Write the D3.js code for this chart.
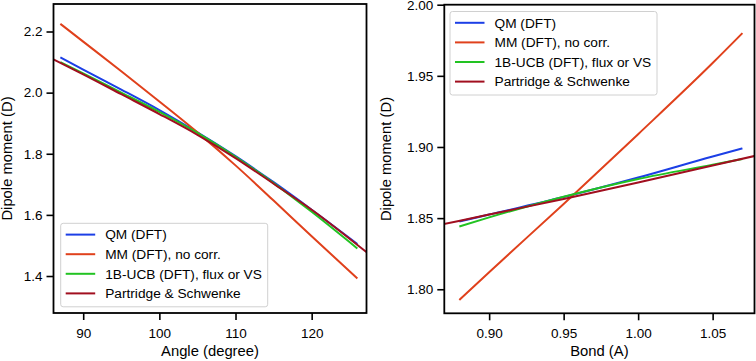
<!DOCTYPE html>
<html>
<head>
<meta charset="utf-8">
<script src="https://cdn.jsdelivr.net/npm/d3@7"></script>
<style>
  body { margin: 0; background: #fff; }
  text { font-family: "Liberation Sans", Arial, sans-serif; fill: #000; }
</style>
</head>
<body>
<div id="viz"></div>
<script>
const width = 756;
const height = 361;

// series names + colours (legend order)
const seriesNames = ['QM (DFT)', 'MM (DFT), no corr.', '1B-UCB (DFT), flux or VS', 'Partridge & Schwenke'];
const seriesColors = ['#1c3fe6', '#e0411c', '#22c322', '#a10f1f'];

// left panel: dipole vs angle
const angleX = [87, 90, 95, 100, 105, 110, 115, 120, 126];
const angleQM = [2.115, 2.075, 2.010, 1.943, 1.870, 1.792, 1.707, 1.617, 1.505];
const angleMM = [2.225, 2.167, 2.070, 1.971, 1.870, 1.762, 1.647, 1.530, 1.392];
const angleUCB = [2.100, 2.063, 2.000, 1.937, 1.868, 1.790, 1.704, 1.610, 1.490];
const anglePSX = [86, 90, 95, 100, 105, 110, 115, 120, 127.5];
const anglePS = [2.110, 2.060, 1.995, 1.930, 1.862, 1.786, 1.702, 1.617, 1.472];
const angleTicksX = [90, 100, 110, 120];
const angleTicksY = [1.4, 1.6, 1.8, 2.0, 2.2];

// right panel: dipole vs bond length
const bondX = [0.88, 0.90, 0.95, 1.00, 1.05, 1.07];
const bondQM = [1.8476, 1.8525, 1.8648, 1.8785, 1.8933, 1.8990];
const bondMM = [1.7925, 1.8120, 1.8600, 1.9090, 1.9590, 1.9800];
const bondUCB = [1.8441, 1.8505, 1.8650, 1.8775, 1.8875, 1.8915];
const bondPSX = [0.86, 0.90, 0.95, 1.00, 1.05, 1.09];
const bondPS = [1.8437, 1.8525, 1.8635, 1.8750, 1.8870, 1.8965];
const bondTicksX = [0.90, 0.95, 1.00, 1.05];
const bondTicksY = [1.80, 1.85, 1.90, 1.95, 2.00];

const svg = d3.select('#viz').append('svg')
  .attr('width', width)
  .attr('height', height);

function zip(xs, ys) { return xs.map((x, i) => [x, ys[i]]); }

function drawPanel(cfg) {
  const x = d3.scaleLinear().domain(cfg.xDomain).range([cfg.left, cfg.right]);
  const y = d3.scaleLinear().domain(cfg.yDomain).range([cfg.bottom, cfg.top]);
  const g = svg.append('g');

  const clipId = 'clip-' + cfg.id;
  g.append('clipPath').attr('id', clipId)
    .append('rect')
    .attr('x', cfg.left).attr('y', cfg.top)
    .attr('width', cfg.right - cfg.left).attr('height', cfg.bottom - cfg.top);

  const line = d3.line()
    .x(d => x(d[0]))
    .y(d => y(d[1]))
    .curve(d3.curveMonotoneX);

  g.append('g').attr('clip-path', `url(#${clipId})`)
    .selectAll('path')
    .data(cfg.series)
    .join('path')
      .attr('d', d => line(d))
      .attr('fill', 'none')
      .attr('stroke', (d, i) => seriesColors[i])
      .attr('stroke-width', 2);

  // axes
  const xAxis = g.append('g')
    .attr('transform', `translate(0, ${cfg.bottom})`)
    .call(d3.axisBottom(x).tickValues(cfg.xTicks).tickFormat(cfg.xFmt)
      .tickSize(7).tickSizeOuter(0).tickPadding(8));
  const yAxis = g.append('g')
    .attr('transform', `translate(${cfg.left}, 0)`)
    .call(d3.axisLeft(y).tickValues(cfg.yTicks).tickFormat(cfg.yFmt)
      .tickSize(7).tickSizeOuter(0).tickPadding(4));
  [xAxis, yAxis].forEach(a => {
    a.select('.domain').remove();
    a.selectAll('line').attr('stroke', '#000').attr('stroke-width', 1.6);
    a.selectAll('text').attr('font-size', 13.5)
      .style('font-family', '"Liberation Sans", Arial, sans-serif');
  });

  // frame
  g.append('rect')
    .attr('x', cfg.left).attr('y', cfg.top)
    .attr('width', cfg.right - cfg.left).attr('height', cfg.bottom - cfg.top)
    .attr('fill', 'none')
    .attr('stroke', '#000')
    .attr('stroke-width', 1.8);

  // axis titles
  g.append('text')
    .attr('x', (cfg.left + cfg.right) / 2)
    .attr('y', 356)
    .attr('text-anchor', 'middle')
    .attr('font-size', 14.8)
    .text(cfg.xLabel);
  g.append('text')
    .attr('transform', `translate(${cfg.yLabelX}, ${(cfg.top + cfg.bottom) / 2}) rotate(-90)`)
    .attr('text-anchor', 'middle')
    .attr('font-size', 14.8)
    .text('Dipole moment (D)');

  // legend
  const lg = g.append('g').attr('transform', `translate(${cfg.legX}, ${cfg.legY})`);
  lg.append('rect')
    .attr('width', 207).attr('height', 83.5)
    .attr('rx', 2.5)
    .attr('fill', '#fff').attr('fill-opacity', 0.85)
    .attr('stroke', '#d0d0d0').attr('stroke-width', 1);
  const item = lg.selectAll('g.item')
    .data(seriesNames)
    .join('g')
      .attr('class', 'item')
      .attr('transform', (d, i) => `translate(0, ${11.3 + i * 19.6})`);
  item.append('line')
    .attr('x1', 5).attr('x2', 34.5)
    .attr('stroke', (d, i) => seriesColors[i])
    .attr('stroke-width', 2);
  item.append('text')
    .attr('x', 44.5).attr('dy', '0.35em')
    .attr('font-size', 13.7)
    .text(d => d);
}

drawPanel({
  id: 'angle',
  left: 53.5, right: 366.5, top: 4, bottom: 313,
  xDomain: [86.1, 127.2], yDomain: [1.279, 2.29],
  series: [zip(angleX, angleQM), zip(angleX, angleMM), zip(angleX, angleUCB), zip(anglePSX, anglePS)],
  xTicks: angleTicksX, yTicks: angleTicksY,
  xFmt: d3.format('d'), yFmt: d3.format('.1f'),
  xLabel: 'Angle (degree)', yLabelX: 12,
  legX: 60.7, legY: 223.3
});

drawPanel({
  id: 'bond',
  left: 444.3, right: 754.5, top: 4.7, bottom: 313.3,
  xDomain: [0.8699, 1.0781], yDomain: [1.7831, 2.0],
  series: [zip(bondX, bondQM), zip(bondX, bondMM), zip(bondX, bondUCB), zip(bondPSX, bondPS)],
  xTicks: bondTicksX, yTicks: bondTicksY,
  xFmt: d3.format('.2f'), yFmt: d3.format('.2f'),
  xLabel: 'Bond (A)', yLabelX: 391,
  legX: 450, legY: 11.5
});
</script>
</body>
</html>
